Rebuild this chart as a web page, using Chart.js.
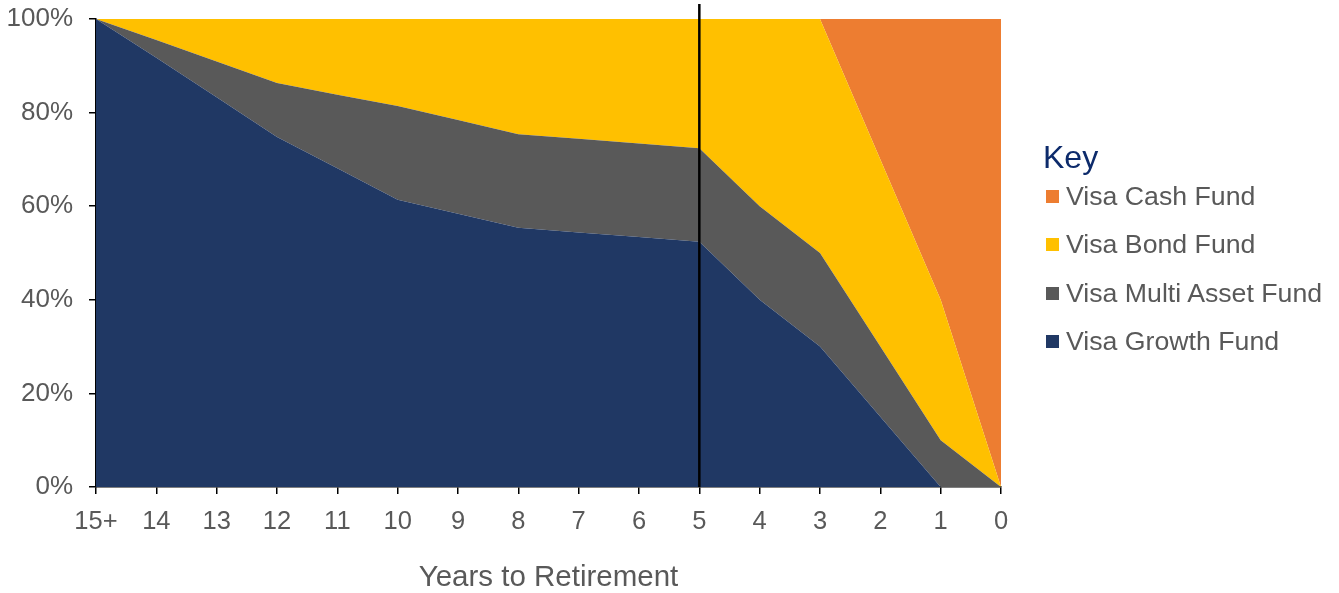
<!DOCTYPE html>
<html>
<head>
<meta charset="utf-8">
<script src="https://cdn.jsdelivr.net/npm/chart.js@4"></script>
<style>
  body{margin:0;background:#fff;font-family:"Liberation Sans",Arial,sans-serif;}
  #wrap{position:relative;width:1339px;height:593px;}
  #legend{position:absolute;left:1043px;top:138px;color:#595959;}
  #legend .title{color:#0D2B6B;font-size:32px;height:34px;line-height:38px;}
  #legend .item{font-size:26.7px;height:48.3px;line-height:48.3px;white-space:nowrap;}
  #legend .box{display:inline-block;width:13px;height:13px;margin:0 7px 0 3px;vertical-align:2px;}
</style>
</head>
<body>
<div id="wrap">
  <canvas id="chart" width="1339" height="593"></canvas>
  <div id="legend"></div>
</div>
<script>
// ==========================
// DATA
// ==========================
const years = ["15+","14","13","12","11","10","9","8","7","6","5","4","3","2","1","0"];

const growthFund = [100, 91.7, 83.3, 74.8, 68.1, 61.4, 58.4, 55.4, 54.4, 53.4, 52.4, 40, 30, 15, 0, 0];
const multiAssetFund = [0, 3.8, 7.6, 11.5, 15.7, 20, 20, 20, 20, 20, 20, 20, 20, 15, 10, 0];
const bondFund = [0, 4.5, 9.1, 13.7, 16.2, 18.6, 21.6, 24.6, 25.6, 26.6, 27.6, 40, 50, 40, 30, 0];
const cashFund = [0, 0, 0, 0, 0, 0, 0, 0, 0, 0, 0, 0, 0, 30, 60, 100];

const yTicks = [0, 20, 40, 60, 80, 100];
const markerYear = "5";

const funds = [
  {label:"Visa Growth Fund", data:growthFund, color:"#203864"},
  {label:"Visa Multi Asset Fund", data:multiAssetFund, color:"#595959"},
  {label:"Visa Bond Fund", data:bondFund, color:"#FFC000"},
  {label:"Visa Cash Fund", data:cashFund, color:"#ED7D31"}
];

const textGrey = "#595959";
const font = "'Liberation Sans', Arial, sans-serif";

// ==========================
// VERTICAL MARKER LINE
// ==========================
const markerLine = {
  id:"markerLine",
  afterDatasetsDraw(chart){
    const x = chart.scales.x.getPixelForValue(years.indexOf(markerYear));
    const ctx = chart.ctx;
    ctx.save();
    ctx.strokeStyle = "#000";
    ctx.lineWidth = 2.5;
    ctx.beginPath();
    ctx.moveTo(x, 4);
    ctx.lineTo(x, chart.chartArea.bottom);
    ctx.stroke();
    ctx.restore();
  }
};

// ==========================
// CHART
// ==========================
new Chart(document.getElementById("chart"), {
  type:"line",
  data:{
    labels:years,
    datasets:funds.map((f,i)=>({
      label:f.label,
      data:f.data,
      backgroundColor:f.color,
      borderColor:f.color,
      borderWidth:0,
      pointRadius:0,
      tension:0,
      fill:i===0 ? "origin" : "-1"
    }))
  },
  options:{
    responsive:false,
    animation:false,
    layout:{padding:{top:19, right:338, left:0, bottom:0}},
    plugins:{legend:{display:false}, tooltip:{enabled:false}},
    scales:{
      x:{
        offset:false,
        grid:{drawOnChartArea:false, drawTicks:true, tickLength:7, color:"#000", lineWidth:1.5},
        border:{color:"#000", width:1.5},
        ticks:{color:textGrey, font:{family:font, size:25.5}, padding:13, maxRotation:0, autoSkip:false},
        title:{display:true, text:"Years to Retirement", color:textGrey, font:{family:font, size:29.5, lineHeight:1}, padding:{top:0, bottom:0}},
        afterFit(scale){ scale.height = 106; }
      },
      y:{
        stacked:true,
        min:0, max:100,
        afterBuildTicks(scale){ scale.ticks = yTicks.map(v=>({value:v})); },
        grid:{drawOnChartArea:false, drawTicks:true, tickLength:7, color:"#000", lineWidth:1.5},
        border:{color:"#000", width:1.5},
        ticks:{color:textGrey, font:{family:font, size:26, lineHeight:0.7}, padding:16, callback:v=>v+"%"},
        afterFit(scale){ scale.width = 96; scale.paddingTop = 0; scale.paddingBottom = 0; }
      }
    }
  },
  plugins:[markerLine]
});

// ==========================
// LEGEND (KEY)
// ==========================
const legend = document.getElementById("legend");
legend.innerHTML = '<div class="title">Key</div>' +
  funds.slice().reverse().map(f=>
    `<div class="item"><span class="box" style="background:${f.color}"></span>${f.label}</div>`
  ).join("");
</script>
</body>
</html>
